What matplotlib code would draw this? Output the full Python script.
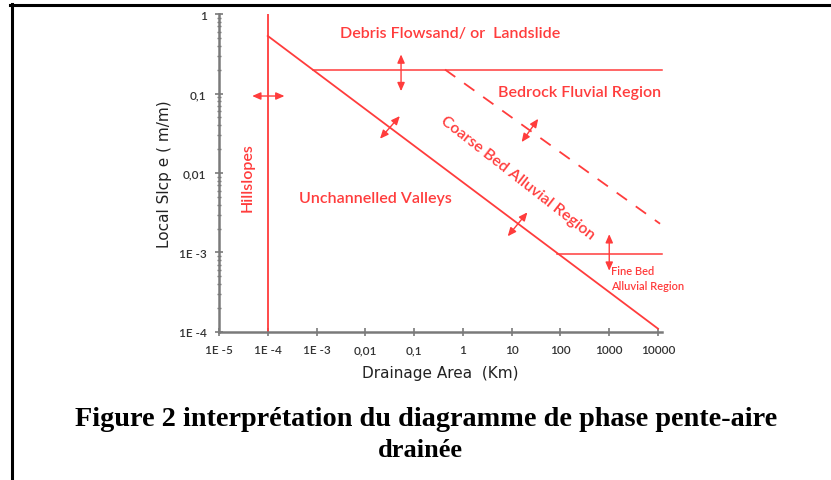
import numpy as np
import matplotlib.pyplot as plt
from matplotlib.lines import Line2D
from matplotlib.ticker import FixedLocator, LogLocator, NullFormatter

# colours
red = '#ff3c3c'
grey = '#7a7a7a'

# ticks
xticks = [1e-5, 1e-4, 1e-3, 1e-2, 1e-1, 1, 10, 100, 1000, 10000]
xlabels = ['1E -5', '1E -4', '1E -3', '0,01', '0,1', '1', '10', '100', '1000', '10000']
yticks = [1e-4, 1e-3, 1e-2, 1e-1, 1]
ylabels = ['1E -4', '1E -3', '0,01', '0,1', '1']

# boundary lines (drainage area, slope)
hill_x = [1e-4, 1e-4]
hill_y = [1e-4, 1.0]
valley_x = [1e-4, 1e4]
valley_y = [0.53, 1.1e-4]
debris_x = [8.3e-4, 1.2e4]
debris_y = [0.2, 0.2]
bedrock_x = [0.43, 1.1e4]
bedrock_y = [0.2, 2.3e-3]
finebed_x = [85, 1.2e4]
finebed_y = [9.5e-4, 9.5e-4]

# double headed arrows: (x0, y0, x1, y1)
arrows = [
    (4.8e-5, 0.093, 2.2e-4, 0.093),
    (0.054, 0.31, 0.054, 0.107),
    (0.02, 0.027, 0.051, 0.052),
    (16, 0.0245, 35, 0.048),
    (8.3, 1.6e-3, 21, 3.2e-3),
    (1000, 1.7e-3, 1000, 5.9e-4),
]

fig = plt.figure(figsize=(8.31, 4.81), dpi=100)
ax = fig.add_axes([0.2635, 0.3077, 0.533, 0.6611])
ax.set_xscale('log')
ax.set_yscale('log')
ax.set_xlim(1e-5, 1.2e4)
ax.set_ylim(1e-4, 1)

ax.plot(hill_x, hill_y, color=red, lw=1.3)
ax.plot(valley_x, valley_y, color=red, lw=1.3)
ax.plot(debris_x, debris_y, color=red, lw=1.1, clip_on=False)
ax.plot(bedrock_x, bedrock_y, color=red, lw=1.3, dashes=(7, 6))
ax.plot(finebed_x, finebed_y, color=red, lw=1.1, clip_on=False)

for x0, y0, x1, y1 in arrows:
    ax.annotate('', xy=(x1, y1), xytext=(x0, y0),
                arrowprops=dict(arrowstyle='<|-|>,head_length=0.5,head_width=0.22',
                                color=red, lw=1.0, shrinkA=0, shrinkB=0))

tf = dict(color=red, family='Lato', weight='semibold', ha='center', va='center')
ax.text(0.54, 0.58, 'Debris Flowsand/ or  Landslide', fontsize=11.5, **tf)
ax.text(250, 0.104, 'Bedrock Fluvial Region', fontsize=11.5, **tf)
ax.text(13, 0.0089, 'Coarse Bed Alluvial Region', fontsize=11.5, rotation=-38, **tf)
ax.text(0.016, 0.0049, 'Unchannelled Valleys', fontsize=11.5, **tf)
ax.text(3.9e-5, 0.0089, 'Hillslopes', fontsize=11.5, rotation=90, **tf)
ax.text(1100, 6e-4, 'Fine Bed', fontsize=8, color=red, family='Lato', weight='semibold', va='center')
ax.text(1100, 3.8e-4, 'Alluvial Region', fontsize=8, color=red, family='Lato', weight='semibold',
        va='center')

# axes look
for s in ['top', 'right']:
    ax.spines[s].set_visible(False)
for s in ['left', 'bottom']:
    ax.spines[s].set_color(grey)
    ax.spines[s].set_linewidth(1.8)
ax.xaxis.set_major_locator(FixedLocator(xticks))
ax.yaxis.set_major_locator(FixedLocator(yticks))
ax.set_xticklabels(xlabels)
ax.set_yticklabels(ylabels)
ax.xaxis.set_minor_locator(LogLocator(base=10, subs=np.arange(2, 10)))
ax.yaxis.set_minor_locator(LogLocator(base=10, subs=np.arange(2, 10)))
ax.xaxis.set_minor_formatter(NullFormatter())
ax.yaxis.set_minor_formatter(NullFormatter())
ax.tick_params(which='major', direction='inout', length=6, width=1.2, color=grey,
               labelsize=8.5, labelcolor='#333333', pad=6)
ax.tick_params(which='minor', direction='inout', length=3.5, width=1, color=grey)
for lab in ax.get_xticklabels() + ax.get_yticklabels():
    lab.set_family('Lato')
    lab.set_weight('semibold')

ax.set_xlabel('Drainage Area  (Km)', fontsize=11, family='DejaVu Sans', color='#222222',
              labelpad=7)
ax.set_ylabel('Local Slcp e ( m/m)', fontsize=11, family='DejaVu Sans', color='#222222',
              labelpad=5)

# caption
fig.text(0.513, 1 - 420 / 481, 'Figure 2 interprétation du diagramme de phase pente-aire',
         fontsize=20.3, family='Liberation Serif', weight='bold', ha='center', va='center')
fig.text(0.506, 1 - 451 / 481, 'drainée',
         fontsize=19, family='Liberation Serif', weight='bold', ha='center', va='center')

# page frame
fig.add_artist(Line2D([10 / 831, 1], [1 - 6 / 481, 1 - 6 / 481], color='black', lw=2.2,
                      transform=fig.transFigure))
fig.add_artist(Line2D([11.5 / 831, 11.5 / 831], [1 - 5 / 481, 0], color='black', lw=2.2,
                      transform=fig.transFigure))

fig.savefig('out.png', dpi=100)
